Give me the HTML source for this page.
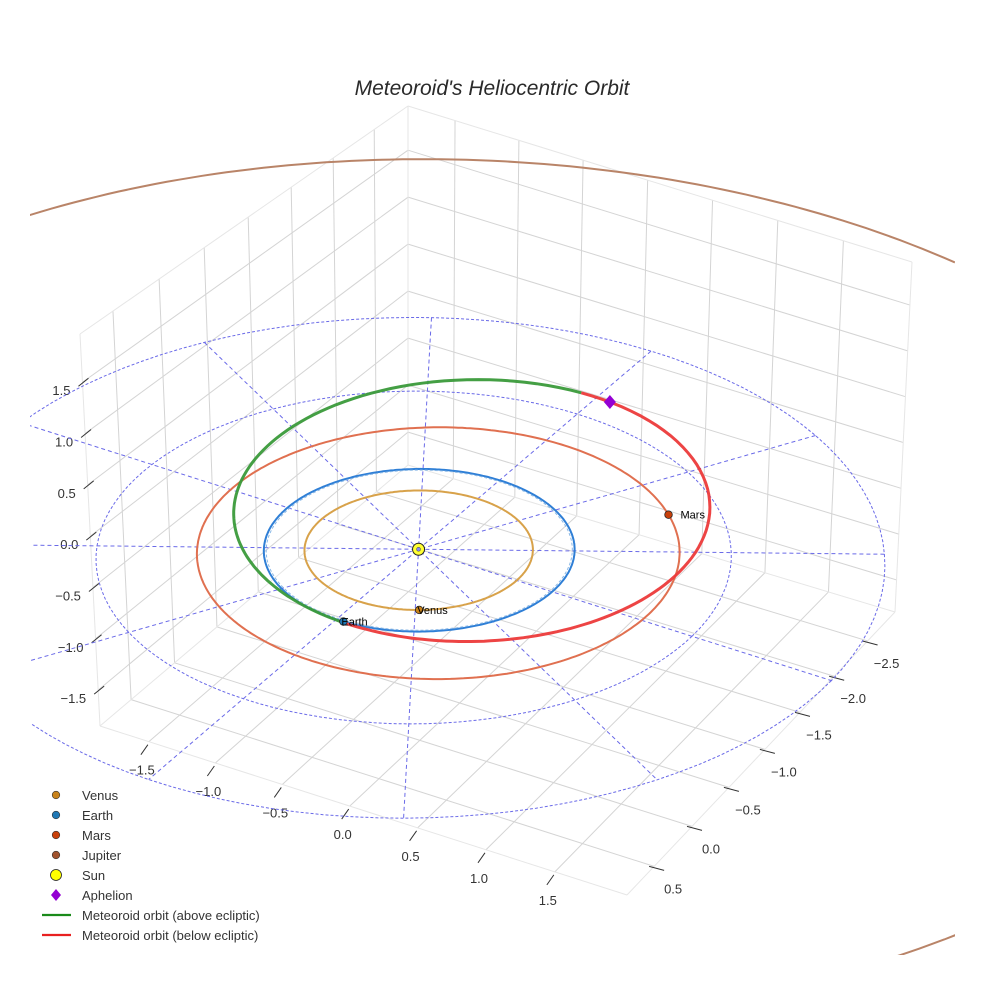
<!DOCTYPE html>
<html><head><meta charset="utf-8"><style>
html,body{margin:0;padding:0;background:#fff;overflow:hidden;}
svg{display:block;font-family:"Liberation Sans",sans-serif;}
</style></head><body>
<svg id="c" width="984" height="984" viewBox="0 0 984 984">
<defs><clipPath id="clip"><rect x="30" y="0" width="925" height="955"/></clipPath></defs>
<rect width="984" height="984" fill="#fff"/>
<text x="492" y="95" text-anchor="middle" font-size="21" font-style="italic" fill="#2a2a2a">Meteoroid's Heliocentric Orbit</text>
<g id="scene" clip-path="url(#clip)"></g>
<g id="axes"></g>
<g id="legend"></g>
</svg>
<script>
// ---- data ----
const xRange=[-1.87,2.02];
const yRange=[-2.92,0.85];
const zRange=[-1.85,1.97];
const xTicks=[-1.5,-1,-0.5,0,0.5,1,1.5];
const yTicks=[-2.5,-2,-1.5,-1,-0.5,0,0.5];
const zTicks=[-1.5,-1,-0.5,0,0.5,1,1.5];
const planetNames=["Venus","Earth","Mars","Jupiter"];
const planetA=[0.72,0.98,1.524,5.2];
const planetE=[0.007,0.017,0.0934,0.1];
const planetPeri=[131,103,145,215];
const planetAngle=[58,87,-46,200];
const orbitColors=["#d8a24a","#2f7fd6","#e07050","#b98468"];
const markerColors=["#c8821a","#1f77b4","#c8400a","#a0522d"];
const meteorA=[1.62];
const meteorE=[0.4];
const meteorPeri=[92.5];
const meteorNode=[87];
const meteorIncl=[3];
const refRadii=[2,3];
const refAngles=[0,30,60,90,120,150];

// ---- projection ----
function homog(p0,p1,p2,p3){
  const sx=p0[0]-p1[0]+p2[0]-p3[0], sy=p0[1]-p1[1]+p2[1]-p3[1];
  const dx1=p1[0]-p2[0],dx2=p3[0]-p2[0],dy1=p1[1]-p2[1],dy2=p3[1]-p2[1];
  const den=dx1*dy2-dx2*dy1;
  const g=(sx*dy2-dx2*sy)/den, h=(dx1*sy-sx*dy1)/den;
  const a=p1[0]-p0[0]+g*p1[0], b=p3[0]-p0[0]+h*p3[0], c=p0[0];
  const d=p1[1]-p0[1]+g*p1[1], e=p3[1]-p0[1]+h*p3[1], f=p0[1];
  return (u,v)=>{const w=g*u+h*v+1;return [(a*u+b*v+c)/w,(d*u+e*v+f)/w];};
}
const H0=homog([408,465],[895,612],[627,895],[100,726]);
const H1=homog([408,106],[912,262],[624,510],[80,334]);
function P(x,y,z){
  const u=(x-xRange[0])/(xRange[1]-xRange[0]);
  const v=(y-yRange[0])/(yRange[1]-yRange[0]);
  const h=(z-zRange[0])/(zRange[1]-zRange[0]);
  const a=H0(u,v),b=H1(u,v);
  return [a[0]+(b[0]-a[0])*h,a[1]+(b[1]-a[1])*h];
}
function D(x,y,z){const p=P(x,y,z);return [p[0]+2,p[1]-7];}
// far-field (affine) projection used for the distant Jupiter orbit
function F(x,y){const s=D(0,0,0);return [s[0]+1.02*(135*x-71*y),s[1]+0.955*(43*x+75*y)];}
const NS="http://www.w3.org/2000/svg";
function mk(tag,attrs,parent){const e=document.createElementNS(NS,tag);for(const k in attrs)e.setAttribute(k,attrs[k]);parent.appendChild(e);return e;}
function inside(p){return p[0]>=20&&p[0]<=965&&p[1]>=0&&p[1]<=(p[0]>500?962:935);}
function pathOf(pts){let d="",pen=false;
  pts.forEach(p=>{if(inside(p)){d+=(pen?"L":"M")+p[0].toFixed(1)+","+p[1].toFixed(1);pen=true;}else pen=false;});
  return d||"M0,0";}
const scene=document.getElementById("scene"),axes=document.getElementById("axes"),legend=document.getElementById("legend");
const rad=Math.PI/180;

// ---- box grid ----
const grid="#d4d4d4";
function seg(p,q,col,w,name){const e=mk("line",{x1:p[0],y1:p[1],x2:q[0],y2:q[1],stroke:col,"stroke-width":w},axes);

return e;}
xTicks.forEach(x=>{
  seg(P(x,yRange[0],zRange[0]),P(x,yRange[1],zRange[0]),grid,1,"floor-gridline-x");
  seg(P(x,yRange[0],zRange[0]),P(x,yRange[0],zRange[1]),grid,1,"right-wall-gridline-x");
});
yTicks.forEach(y=>{
  seg(P(xRange[0],y,zRange[0]),P(xRange[1],y,zRange[0]),grid,1,"floor-gridline-y");
  seg(P(xRange[0],y,zRange[0]),P(xRange[0],y,zRange[1]),grid,1,"left-wall-gridline-y");
});
zTicks.forEach(z=>{
  seg(P(xRange[0],yRange[0],z),P(xRange[0],yRange[1],z),grid,1,"left-wall-gridline-z");
  seg(P(xRange[0],yRange[0],z),P(xRange[1],yRange[0],z),grid,1,"right-wall-gridline-z");
});
const edge="#e6e6e6";
[[[0,0,0],[0,1,0]],[[0,1,0],[1,1,0]],[[1,1,0],[1,0,0]],[[1,0,0],[0,0,0]],[[0,0,0],[0,0,1]],[[0,1,0],[0,1,1]],[[1,0,0],[1,0,1]],[[0,1,1],[0,0,1]],[[0,0,1],[1,0,1]]].forEach(s=>{
  const f=k=>P(xRange[k[0]],yRange[k[1]],zRange[k[2]]);
  seg(f(s[0]),f(s[1]),edge,1,"box-edge");
});
xTicks.forEach(x=>{const p=P(x,yRange[1],zRange[0]);
  seg([p[0]-1,p[1]+3],[p[0]-8,p[1]+13],"#333",1,"x-tick-mark");
  const t=mk("text",{x:p[0]-7,y:p[1]+33,"text-anchor":"middle","font-size":13,fill:"#333"},axes);t.textContent=(x<0?"\u2212":"")+Math.abs(x).toFixed(1);
  
  });
yTicks.forEach(y=>{const p=P(xRange[1],y,zRange[0]);
  seg([p[0]-5,p[1]],[p[0]+10,p[1]+4],"#333",1,"y-tick-mark");
  const t=mk("text",{x:p[0]+19,y:p[1]+27,"text-anchor":"middle","font-size":13,fill:"#333"},axes);t.textContent=(y<0?"\u2212":"")+Math.abs(y).toFixed(1);
  
  });
zTicks.forEach(z=>{const p=P(xRange[0],yRange[1],z);
  seg([p[0]-4,p[1]+4],[p[0]+6,p[1]-4],"#333",1,"z-tick-mark");
  const t=mk("text",{x:p[0]-12,y:p[1]+13,"text-anchor":"end","font-size":13,fill:"#333"},axes);t.textContent=(z<0?"\u2212":"")+Math.abs(z).toFixed(1);
  
  });
document.getElementById("c").insertBefore(axes,scene);

// ---- reference dashed circles ----
refRadii.forEach(r=>{const pts=[];for(let a=0;a<=360;a+=3)pts.push(D(r*Math.cos(a*rad),r*Math.sin(a*rad),0));
  const e=mk("path",{d:pathOf(pts),fill:"none",stroke:"#6a6ae8","stroke-width":1,"stroke-dasharray":"3,2"},scene);
  
  });
refAngles.forEach(a=>{const R=refRadii[refRadii.length-1];const pts=[];
  for(let k=-R;k<=R+1e-9;k+=0.1)pts.push(D(k*Math.cos(a*rad),k*Math.sin(a*rad),0));
  const e=mk("path",{d:pathOf(pts),stroke:"#6a6ae8","stroke-width":1,"stroke-dasharray":"4,3",fill:"none"},scene);
  
  });

// ---- planet orbits ----
function orbitXYZ(a,e,peri,th,node,inc){const nu=(th-peri)*rad;const r=a*(1-e*e)/(1+e*Math.cos(nu));
  return [r*Math.cos(th*rad),r*Math.sin(th*rad),r*Math.sin((th-node)*rad)*Math.sin(inc*rad)];}
function orbitPt(a,e,peri,th,node,inc){const q=orbitXYZ(a,e,peri,th,node,inc);return D(q[0],q[1],q[2]);}
planetNames.forEach((n,i)=>{const pts=[];for(let t=0;t<=360;t+=1){
    if(n==="Jupiter"){const q=orbitXYZ(planetA[i],planetE[i],planetPeri[i],t,0,0);pts.push(F(q[0],q[1]));}
    else pts.push(orbitPt(planetA[i],planetE[i],planetPeri[i],t,0,0));}
  const e=mk("path",{d:pathOf(pts),fill:"none",stroke:orbitColors[i],"stroke-width":2},scene);
  
  
  if(n==="Earth"){const p2=[];for(let t=0;t<=360;t+=2)p2.push(orbitPt(planetA[i]*0.985,planetE[i],planetPeri[i],t,0,0));
    const e2=mk("path",{d:pathOf(p2),fill:"none",stroke:"#8ab8e6","stroke-width":1,"stroke-dasharray":"3,2"},scene);
    
    }
});
// ---- meteoroid orbit ----
const above=[],below=[];
for(let t=0;t<=180;t+=2){above.push(orbitPt(meteorA[0],meteorE[0],meteorPeri[0],meteorNode[0]+t,meteorNode[0],meteorIncl[0]));
  below.push(orbitPt(meteorA[0],meteorE[0],meteorPeri[0],meteorNode[0]+180+t,meteorNode[0],meteorIncl[0]));}
let e1=mk("path",{d:pathOf(above),fill:"none",stroke:"#3a9a3a","stroke-width":3,opacity:0.95},scene);


let e2=mk("path",{d:pathOf(below),fill:"none",stroke:"#ec3a3a","stroke-width":3,opacity:0.95},scene);



// ---- markers ----
planetNames.forEach((n,i)=>{if(n==="Jupiter")return;
  const p=orbitPt(planetA[i],planetE[i],planetPeri[i],planetAngle[i],0,0);
  const c=mk("circle",{cx:p[0],cy:p[1],r:3.8,fill:markerColors[i],stroke:"#222","stroke-width":0.8},scene);
  
  
  const t=mk("text",{x:p[0]+(n==="Mars"?12:-2),y:p[1]+4,"font-size":11,fill:"#000"},scene);t.textContent=n;
  
  });
const s=D(0,0,0);
let sc=mk("circle",{cx:s[0],cy:s[1],r:6,fill:"#ffff33",stroke:"#222","stroke-width":1},scene);


let sc2=mk("circle",{cx:s[0],cy:s[1],r:2,fill:"#8888ee",stroke:"#444","stroke-width":0.5},scene);


const ap=orbitPt(meteorA[0],meteorE[0],meteorPeri[0],meteorPeri[0]+180,meteorNode[0],meteorIncl[0]);
let apm=mk("path",{d:`M${ap[0]},${ap[1]-7}L${ap[0]+6},${ap[1]}L${ap[0]},${ap[1]+7}L${ap[0]-6},${ap[1]}Z`,fill:"#9400d3"},scene);



// ---- legend ----
const legNames=["Venus","Earth","Mars","Jupiter","Sun","Aphelion","Meteoroid orbit (above ecliptic)","Meteoroid orbit (below ecliptic)"];
legNames.forEach((n,i)=>{const y=795+i*20;
  const g=mk("g",{},legend);
  
  
  if(i<4)mk("circle",{cx:56,cy:y,r:3.8,fill:markerColors[i],stroke:"#333","stroke-width":0.6},g);
  else if(i===4)mk("circle",{cx:56,cy:y,r:5.5,fill:"#ffff00",stroke:"#222","stroke-width":0.8},g);
  else if(i===5)mk("path",{d:`M56,${y-6}L61,${y}L56,${y+6}L51,${y}Z`,fill:"#9400d3"},g);
  else mk("line",{x1:42,y1:y,x2:71,y2:y,stroke:i===6?"#1a8a1a":"#e82020","stroke-width":2.2},g);
  const t=mk("text",{x:82,y:y+5,"font-size":13,fill:"#333"},g);t.textContent=n;});
</script>
</body></html>
